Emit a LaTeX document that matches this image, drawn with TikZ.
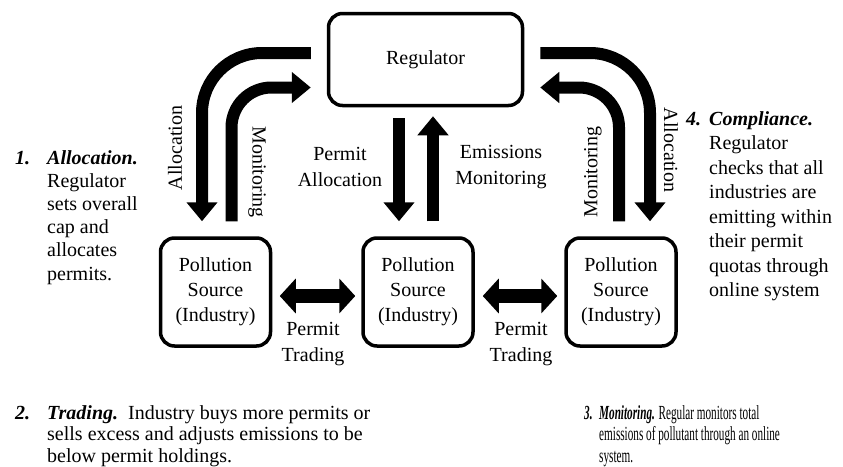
\documentclass[tikz,border=0pt]{standalone}
\usepackage{fontspec}
\setmainfont{Liberation Serif}
\newfontfamily\narrowserif{Liberation Serif}[FakeStretch=0.56]
\usetikzlibrary{arrows.meta,positioning}

\begin{document}
\begin{tikzpicture}[x=1pt,y=-1pt]

		\tikzstyle{box}=[draw,line width=3.5pt,rounded corners=14pt,align=center,font=\fontsize{20}{25}\selectfont]
		\tikzstyle{bigarrow}=[line width=12pt,-{Triangle[width=30pt,length=19pt]}]
		\tikzstyle{tradearrow}=[line width=14pt,{Triangle[width=34pt,length=16pt]}-{Triangle[width=34pt,length=16pt]}]
		\tikzstyle{lbl}=[align=center,inner sep=0pt,font=\fontsize{20}{26}\selectfont]
		\tikzstyle{note}=[align=left,anchor=base west,inner sep=0pt]

		\useasboundingbox (0,0) rectangle (843,466);

		% regulator and sources
		\node[box,minimum width=194pt,minimum height=92pt] (reg) at (425.5,59.5) {Regulator};
		\node[box,minimum width=110pt,minimum height=108pt] (srcL) at (215.5,292) {Pollution\\Source\\(Industry)};
		\node[box,minimum width=110pt,minimum height=108pt] (srcM) at (418,292) {Pollution\\Source\\(Industry)};
		\node[box,minimum width=110pt,minimum height=108pt] (srcR) at (621,292) {Pollution\\Source\\(Industry)};

		% curved arrows
		\draw[bigarrow,rounded corners=60pt] ([xshift=-16pt,yshift=6.5pt]reg.west) -| ([xshift=-13.5pt,yshift=15pt]srcL.north);
		\draw[bigarrow,rounded corners=40pt] ([xshift=16pt,yshift=15pt]srcL.north) |- ([xshift=-16pt,yshift=-28pt]reg.west);
		\draw[bigarrow,rounded corners=60pt] ([xshift=16pt,yshift=6.5pt]reg.east) -| ([xshift=29pt,yshift=15pt]srcR.north);
		\draw[bigarrow,rounded corners=40pt] ([xshift=-2pt,yshift=15pt]srcR.north) |- ([xshift=16pt,yshift=-28pt]reg.east);

		% straight arrows
		\draw[bigarrow] ([xshift=-26.5pt,yshift=-11pt]reg.south) -- ([xshift=-19pt,yshift=15pt]srcM.north);
		\draw[bigarrow] ([xshift=15pt,yshift=15pt]srcM.north) -- ([xshift=7.5pt,yshift=-9pt]reg.south);
		\draw[tradearrow] ([xshift=7.5pt,yshift=-4pt]srcL.east) -- ([xshift=-6pt,yshift=-4pt]srcM.west);
		\draw[tradearrow] ([xshift=8pt,yshift=-4pt]srcM.east) -- ([xshift=-7pt,yshift=-4pt]srcR.west);

		% arrow labels
		\node[lbl,rotate=90] (allocL) at (175,148) {Allocation};
		\node[lbl,rotate=-90] (monL) at (257,172) {Monitoring};
		\node[lbl] (permAlloc) at (340,167) {Permit\\Allocation};
		\node[lbl] (emisMon) at (501,167) {Emissions\\Monitoring};
		\node[lbl,rotate=90] (monR) at (593,172) {Monitoring};
		\node[lbl,rotate=-90] (allocR) at (671,150) {Allocation};
		\node[lbl] (tradeL) at (313,344) {Permit\\Trading};
		\node[lbl] (tradeR) at (521,344) {Permit\\Trading};

		% numbered notes (base = last line)
		\node[note,font=\fontsize{20}{23.2}\selectfont] (num1) at (15,164) {\textbf{\textit{1.}}};
		\node[note,font=\fontsize{20}{23.2}\selectfont] (note1) at (47,280) {\textbf{\textit{Allocation.}}\\Regulator\\sets overall\\cap and\\allocates\\permits.};
		\node[note,font=\fontsize{20}{24.5}\selectfont] (num4) at (686,125) {\textbf{\textit{4.}}};
		\node[note,font=\fontsize{20}{24.5}\selectfont] (note4) at (709,296.5) {\textbf{\textit{Compliance.}}\\Regulator\\checks that all\\industries are\\emitting within\\their permit\\quotas through\\online system};
		\node[note,font=\fontsize{20}{21.5}\selectfont] (num2) at (15,419) {\textbf{\textit{2.}}};
		\node[note,font=\fontsize{20}{21.5}\selectfont] (note2) at (47,462) {\textbf{\textit{Trading.}}\ \ Industry buys more permits or\\sells excess and adjusts emissions to be\\below permit holdings.};
		\node[note,font=\narrowserif\fontsize{20}{21.5}\selectfont] (num3) at (584,419) {\textbf{\textit{3.}}};
		\node[note,font=\narrowserif\fontsize{20}{21.5}\selectfont] (note3) at (599,462) {\textbf{\textit{Monitoring.}} Regular monitors total\\emissions of pollutant through an online\\system.};

\end{tikzpicture}
\end{document}
